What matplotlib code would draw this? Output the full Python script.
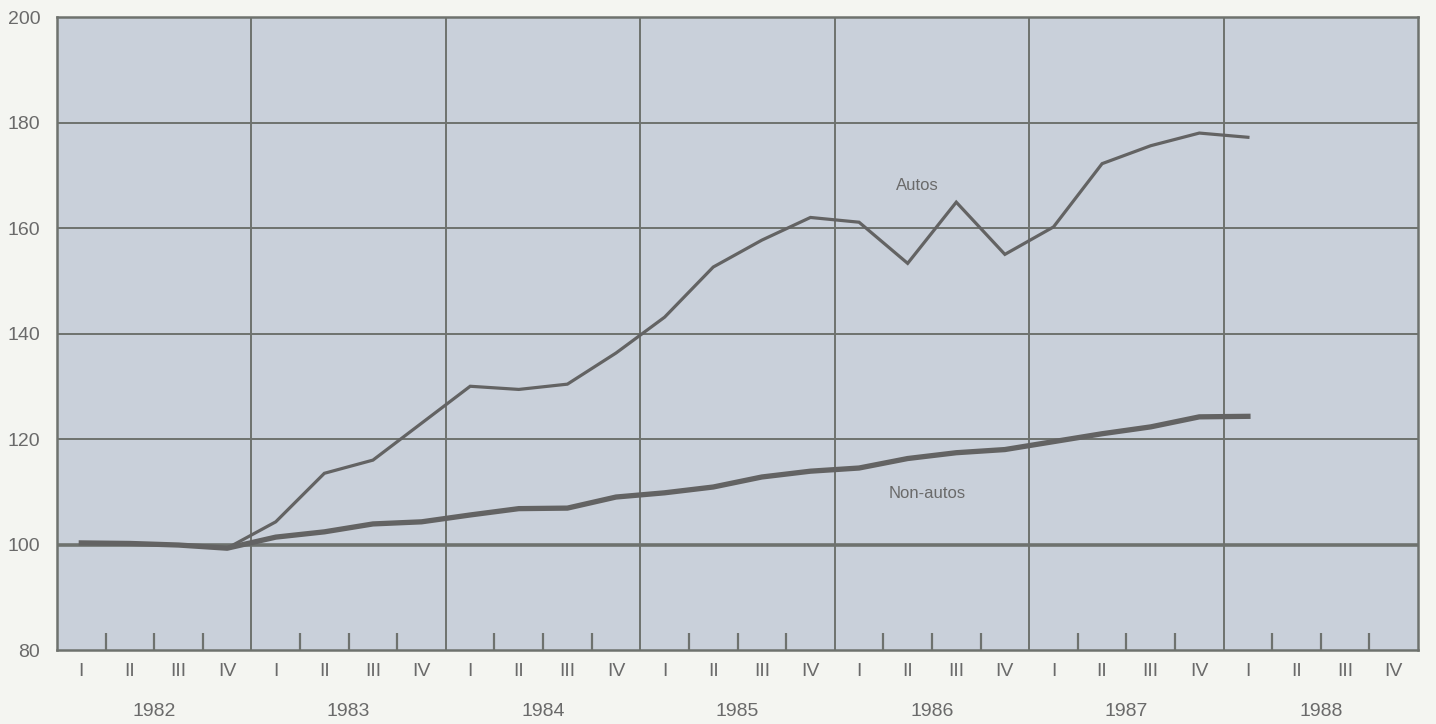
import numpy as np
import matplotlib.pyplot as plt

plt.rcParams['font.family'] = ['Liberation Sans', 'DejaVu Sans']

years = ['1982', '1983', '1984', '1985', '1986', '1987', '1988']
quarters = ['I', 'II', 'III', 'IV']

# quarterly index values, 1982 Q1 .. 1988 Q1
autos = [100.3, 100.2, 99.9, 99.3,
         104.3, 113.5, 116.0, 123.0,
         130.0, 129.4, 130.4, 136.3,
         143.1, 152.6, 157.7, 162.0,
         161.1, 153.3, 164.9, 155.0,
         160.2, 172.2, 175.6, 178.0,
         177.2]
non_autos = [100.3, 100.2, 99.9, 99.3,
             101.4, 102.4, 103.9, 104.3,
             105.6, 106.8, 106.9, 109.0,
             109.8, 110.9, 112.8, 113.9,
             114.5, 116.3, 117.4, 118.0,
             119.5, 121.0, 122.3, 124.2,
             124.3]

line_col = '#636363'
grid_col = '#6e726e'
text_col = '#6a6a6a'

fig = plt.figure(figsize=(14.36, 7.24), dpi=100, facecolor='#f4f5f1')
ax = fig.add_axes([0.0397, 0.1022, 0.9478, 0.8743])
ax.set_facecolor('#c9d0da')

nq = len(years) * 4
ax.set_xlim(0, nq)
ax.set_ylim(80, 200)

# grid
for yv in [120, 140, 160, 180]:
    ax.axhline(yv, color=grid_col, lw=1.4, zorder=1)
ax.axhline(100, color=grid_col, lw=2.6, zorder=1)
for xv in range(4, nq, 4):
    ax.axvline(xv, color=grid_col, lw=1.4, zorder=1)

x = np.arange(len(autos)) + 0.5
ax.plot(x, autos, color=line_col, lw=2.3, zorder=3, solid_joinstyle='miter')
ax.plot(x, non_autos, color=line_col, lw=3.8, zorder=3)

ax.text(17.7, 168.0, 'Autos', color=text_col, fontsize=12, ha='center', va='center')
ax.text(17.9, 109.6, 'Non-autos', color=text_col, fontsize=12, ha='center', va='center')

# y axis
ax.set_yticks([80, 100, 120, 140, 160, 180, 200])
ax.tick_params(axis='y', length=0, pad=12, labelsize=14, labelcolor=text_col)

# x axis: quarter labels at centres, inward ticks at quarter boundaries
ax.set_xticks(np.arange(nq) + 0.5)
ax.set_xticklabels(quarters * len(years))
ax.tick_params(axis='x', which='major', length=0, pad=9, labelsize=14, labelcolor=text_col)
ax.set_xticks([q for q in range(1, nq) if q % 4 != 0], minor=True)
ax.tick_params(axis='x', which='minor', direction='in', length=12, width=1.6, color=grid_col)

for i, yr in enumerate(years):
    ax.text(i * 4 + 2, -0.097, yr, transform=ax.get_xaxis_transform(),
            ha='center', va='center', fontsize=14, color=text_col)

for s in ax.spines.values():
    s.set_color(grid_col)
    s.set_linewidth(1.8)

fig.savefig('out.png', dpi=100, facecolor=fig.get_facecolor())
